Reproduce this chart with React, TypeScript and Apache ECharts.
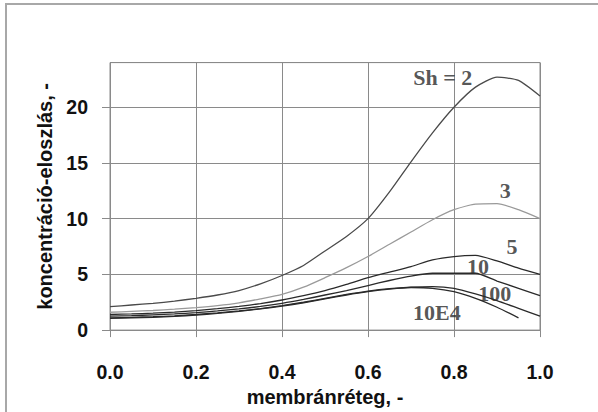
import React, { useEffect, useRef } from "react";
import * as echarts from "echarts";

const xValues = [0, 0.05, 0.1, 0.15, 0.2, 0.25, 0.3, 0.35, 0.4, 0.45, 0.5, 0.55, 0.6, 0.65, 0.7, 0.75, 0.8, 0.85, 0.9, 0.95, 1.0];

const sh2 = [2.1, 2.25, 2.4, 2.6, 2.85, 3.15, 3.55, 4.15, 4.9, 5.8, 7.1, 8.4, 10.0, 12.4, 15.1, 17.7, 20.0, 21.8, 22.7, 22.4, 21.0];
const sh3 = [1.6, 1.68, 1.76, 1.88, 2.02, 2.2, 2.45, 2.8, 3.2, 3.85, 4.7, 5.6, 6.6, 7.7, 8.8, 9.9, 10.8, 11.3, 11.35, 10.8, 10.0];
const sh5 = [1.4, 1.45, 1.52, 1.62, 1.75, 1.92, 2.12, 2.38, 2.7, 3.1, 3.55, 4.1, 4.7, 5.2, 5.7, 6.3, 6.6, 6.7, 6.2, 5.55, 5.0];
const sh10 = [1.25, 1.3, 1.37, 1.45, 1.57, 1.72, 1.9, 2.12, 2.4, 2.75, 3.15, 3.55, 4.0, 4.45, 4.85, 5.1, 5.1, 5.1, 4.4, 3.75, 3.1];
const sh100 = [1.1, 1.15, 1.2, 1.28, 1.4, 1.55, 1.72, 1.93, 2.2, 2.5, 2.85, 3.2, 3.5, 3.72, 3.85, 3.9, 3.75, 3.25, 2.65, 1.95, 1.25];
const sh1e4 = [1.05, 1.1, 1.15, 1.23, 1.35, 1.5, 1.68, 1.9, 2.15, 2.45, 2.8, 3.15, 3.45, 3.68, 3.82, 3.75, 3.45, 2.85, 2.05, 1.1];

const curveNames = ["Sh = 2", "3", "5", "10", "100", "10E4"];
const curveValues = [sh2, sh3, sh5, sh10, sh100, sh1e4];
const curveColors = ["#4a4a4a", "#9a9a9a", "#2a2a2a", "#2a2a2a", "#2a2a2a", "#2a2a2a"];

const labelTexts = ["Sh = 2", "3", "5", "10", "100", "10E4"];
const labelX = [0.774, 0.919, 0.935, 0.856, 0.895, 0.76];
const labelY = [22.7, 12.5, 7.5, 5.7, 3.25, 1.6];

const yTicks = [0, 5, 10, 15, 20];

export default function App() {
  const ref = useRef<HTMLDivElement>(null);
  useEffect(() => {
    if (!ref.current) return;
    const chart = echarts.init(ref.current, null, { renderer: "svg" });
    const lineSeries = curveValues.map((vals, i) => ({
      name: curveNames[i],
      type: "line",
      data: vals.map((v, j) => [xValues[j], v]),
      smooth: 0.2,
      symbol: "none",
      lineStyle: { color: curveColors[i], width: 1.3 },
      z: 3,
    }));
    const labelSeries = {
      type: "scatter",
      data: labelTexts.map((t, i) => ({ value: [labelX[i], labelY[i]], name: t })),
      symbolSize: 1,
      itemStyle: { color: "rgba(0,0,0,0)" },
      label: {
        show: true,
        position: "inside",
        formatter: (p: any) => p.name,
        fontFamily: "Liberation Serif",
        fontWeight: "bold",
        fontSize: 22,
        color: "#2a2a2a",
      },
      z: 5,
    };
    chart.setOption({
      animation: false,
      backgroundColor: "#fff",
      graphic: [
        {
          type: "rect",
          shape: { x: 6, y: 4, width: 800, height: 600 },
          style: { fill: "none", stroke: "#a8a8a8", lineWidth: 2 },
          silent: true,
        },
      ],
      grid: {
        left: 110,
        right: 58,
        top: 62.6,
        bottom: 77,
        show: true,
        borderColor: "#8a8a8a",
        borderWidth: 1,
      },
      xAxis: {
        type: "value",
        min: 0,
        max: 1,
        interval: 0.2,
        name: "membránréteg, -",
        nameLocation: "middle",
        nameGap: 55,
        nameTextStyle: { fontFamily: "Liberation Sans", fontWeight: "bold", fontSize: 20, color: "#111" },
        axisLine: { show: true, lineStyle: { color: "#8a8a8a" } },
        axisTick: { show: true, length: 7, lineStyle: { color: "#8a8a8a" } },
        axisLabel: {
          margin: 32,
          fontFamily: "Liberation Sans",
          fontWeight: "bold",
          fontSize: 19.5,
          color: "#111",
          formatter: (v: number) => v.toFixed(1),
        },
        splitLine: { show: true, lineStyle: { color: "#8a8a8a", width: 1 } },
      },
      yAxis: {
        type: "value",
        min: 0,
        max: 24,
        interval: 5,
        name: "koncentráció-eloszlás, -",
        nameLocation: "middle",
        nameGap: 54,
        nameTextStyle: { fontFamily: "Liberation Sans", fontWeight: "bold", fontSize: 20, color: "#111" },
        axisLine: { show: true, lineStyle: { color: "#8a8a8a" } },
        axisTick: { show: true, length: 8, lineStyle: { color: "#8a8a8a" } },
        axisLabel: {
          margin: 22,
          showMaxLabel: false,
          fontFamily: "Liberation Sans",
          fontWeight: "bold",
          fontSize: 19.5,
          color: "#111",
          formatter: (v: number) => (yTicks.indexOf(v) >= 0 ? String(v) : ""),
        },
        splitLine: { show: true, lineStyle: { color: "#8a8a8a", width: 1 } },
      },
      series: [...lineSeries, labelSeries],
    });
    return () => chart.dispose();
  }, []);
  return (
    <div
      ref={ref}
      style={{ position: "fixed", left: 0, top: 0, width: 598, height: 412, background: "#fff" }}
    />
  );
}
